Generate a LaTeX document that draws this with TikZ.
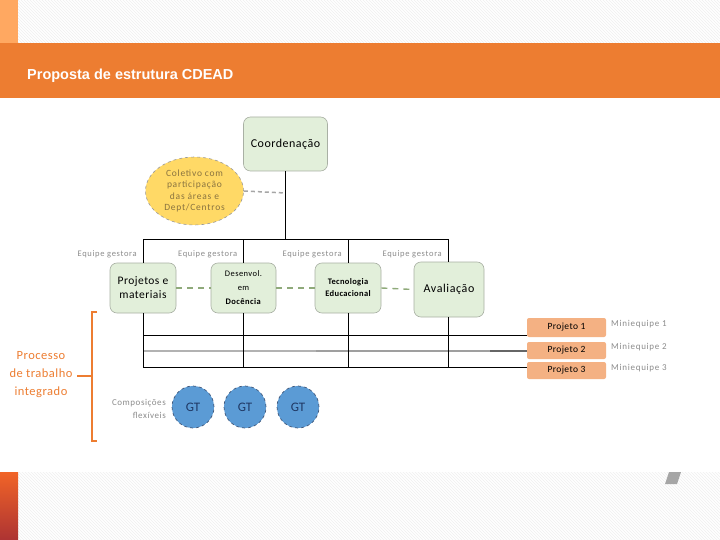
\documentclass[tikz,border=0pt]{standalone}
\usepackage{fontspec}
\setmainfont{Carlito}
\newfontfamily\arialf{Liberation Sans}
\newcommand\lsp[1]{\addfontfeature{LetterSpace=#1}}
\usetikzlibrary{patterns,shapes.geometric}
\definecolor{orng}{HTML}{ED7D31}
\definecolor{orngl}{HTML}{FFA861}
\definecolor{gfill}{HTML}{E2EFDA}
\definecolor{gbord}{HTML}{A9B0A4}
\definecolor{yfill}{HTML}{FFD966}
\definecolor{ytext}{HTML}{8A7440}
\definecolor{pfill}{HTML}{F4B183}
\definecolor{bfill}{HTML}{5B9BD5}
\definecolor{bbord}{HTML}{41587A}
\definecolor{gtt}{HTML}{1F3864}
\definecolor{dgreen}{HTML}{8FAA7A}
\definecolor{lbl}{HTML}{8C8C8C}
\tikzset{
  gbox/.style={draw=gbord, fill=gfill, rounded corners=7pt, line width=0.6pt, align=center, inner sep=2pt},
  pbox/.style={fill=pfill, rounded corners=2pt, minimum width=79pt, font=\fontsize{9.5}{10}\selectfont\lsp{4}, inner sep=1pt},
  gt/.style={circle, fill=bfill, draw=bbord, dashed, line width=0.7pt, minimum size=42pt, inner sep=0pt, text=gtt, font=\fontsize{13}{14}\selectfont},
  eqlbl/.style={anchor=east, text=lbl, font=\fontsize{8.5}{9}\selectfont\lsp{8}, inner sep=0pt},
  mlbl/.style={anchor=west, text=lbl, font=\fontsize{9}{10}\selectfont\lsp{8}, inner sep=0pt},
  conn/.style={line width=0.7pt, black},
  dgl/.style={dgreen, line width=1.4pt, dash pattern=on 6pt off 5pt},
}
\begin{document}
\begin{tikzpicture}[x=1pt,y=-1pt]
\useasboundingbox (0,0) rectangle (720,540);
% background strips
\fill[white] (0,0) rectangle (720,540);
\fill[pattern=north west lines, pattern color=gray!12] (0,0) rectangle (720,43);
\fill[pattern=north west lines, pattern color=gray!12] (0,472) rectangle (720,540);
\fill[orngl] (0,0) rectangle (18,43);
\shade[top color=orng!80!red, bottom color=red!60!black!80] (0,472) rectangle (18,540);
\fill[orng] (0,43) rectangle (720,98);
\fill[gray!70] (669,472) -- (681,472) -- (677,484) -- (665,484) -- cycle;
\node[anchor=west, text=white, font=\arialf\bfseries\fontsize{14.5}{16}\selectfont, inner sep=0pt] (title) at (27,76) {Proposta de estrutura CDEAD};

% main boxes
\node[gbox, minimum width=84pt, minimum height=54pt, font=\fontsize{12}{13}\selectfont\lsp{4}] (coord) at (285.5,144) {Coordenação};
\node[ellipse, fill=yfill, draw=gray!80, dashed, line width=0.6pt, minimum width=98pt, minimum height=68pt, align=center, text=ytext, font=\fontsize{9.5}{11.3}\selectfont\lsp{8}, inner sep=0pt] (col) at (194.5,191) {Coletivo com\\participação\\das áreas e\\Dept/Centros};

\node[gbox, minimum width=66pt, minimum height=50pt, font=\fontsize{11.5}{14}\selectfont\lsp{4}] (proj) at (143,288) {Projetos e\\materiais};
\node[gbox, minimum width=65pt, minimum height=50pt, font=\fontsize{8.5}{14}\selectfont\lsp{5}] (des) at (243.5,288) {Desenvol.\\em\\\textbf{Docência}};
\node[gbox, minimum width=66pt, minimum height=50pt, font=\bfseries\fontsize{8.5}{12}\selectfont\lsp{4}] (tec) at (348,288) {Tecnologia\\Educacional};
\node[gbox, minimum width=70pt, minimum height=55pt, font=\fontsize{12}{13}\selectfont\lsp{5}] (ava) at (449,289.5) {Avaliação};

% coordinates
\coordinate (cbar) at (285.5,239);
\coordinate (b1) at (143,239);
\coordinate (b2) at (243.5,239);
\coordinate (b3) at (348,239);
\coordinate (b4) at (448,239);
\coordinate (cdash) at (285.5,193);

\draw[conn] (coord.south) -- (cbar);
\draw[conn] (b1) -- (b4);
\draw[conn] (b1) -- (proj.north);
\draw[conn] (b2) -- (des.north);
\draw[conn] (b3) -- (tec.north);
\draw[conn] (b4) -- (b4 |- ava.north);
\draw[gray!70, line width=1.5pt, dash pattern=on 4pt off 3pt] (col.east) -- (cdash);

\draw[dgl] (proj.east) -- (des.west);
\draw[dgl] (des.east) -- (tec.west);
\draw[dgl] (tec.east) -- (ava.west);

% labels equipe
\node[eqlbl] (e1) at (137,254) {Equipe gestora};
\node[eqlbl] (e2) at (237.5,254) {Equipe gestora};
\node[eqlbl] (e3) at (342,254) {Equipe gestora};
\node[eqlbl] (e4) at (442,254) {Equipe gestora};

% projects
\node[pbox, minimum height=19pt] (p1) at (566.5,327.5) {Projeto 1};
\node[pbox, minimum height=17pt] (p2) at (566.5,350.5) {Projeto 2};
\node[pbox, minimum height=17pt] (p3) at (566.5,370.5) {Projeto 3};
\node[mlbl] (m1) at (611,324) {Miniequipe 1};
\node[mlbl] (m2) at (611,347) {Miniequipe 2};
\node[mlbl] (m3) at (611,368) {Miniequipe 3};

\coordinate (l1a) at (143,335);
\coordinate (l1b) at (527,335);
\coordinate (l2a) at (143,351);
\coordinate (l2m) at (316,351);
\coordinate (l2n) at (490,351);
\coordinate (l2b) at (527,351);
\coordinate (l3a) at (143,367);
\coordinate (l3b) at (527,367);
\draw[conn] (l1a) -- (l1b);
\draw[gray!60, line width=1.6pt] (l2a) -- (l2m);
\draw[gray!75, line width=1.8pt] (l2m) -- (l2n);
\draw[gray!80!black, line width=1.8pt] (l2n) -- (l2b);
\draw[conn] (l3a) -- (l3b);

\draw[conn] (proj.south) -- (proj.south |- l3a);
\draw[conn] (des.south) -- (des.south |- l3a);
\draw[conn] (tec.south) -- (tec.south |- l3a);
\draw[conn] (b4 |- ava.south) -- (b4 |- l3a);

% bracket
\coordinate (brt) at (97,312);
\coordinate (brb) at (97,441);
\coordinate (brm) at (92,376);
\coordinate (brl) at (77,376);
\draw[orng, line width=1.6pt] (brt) -- (92,312) -- (92,441) -- (brb);
\draw[orng, line width=1.6pt] (brl) -- (brm);
\node[align=center, text=orng, font=\fontsize{12.5}{18}\selectfont\lsp{4}, inner sep=0pt] (proc) at (41,375) {Processo\\de trabalho\\integrado};

% GT
\node[gt] (gt1) at (193,407) {GT};
\node[gt] (gt2) at (245,407) {GT};
\node[gt] (gt3) at (298,407) {GT};
\node[align=right, anchor=east, text=lbl, font=\fontsize{9}{13}\selectfont\lsp{6}, inner sep=0pt] (comp) at (166,409) {Composições\\flexíveis};
\end{tikzpicture}
\end{document}
